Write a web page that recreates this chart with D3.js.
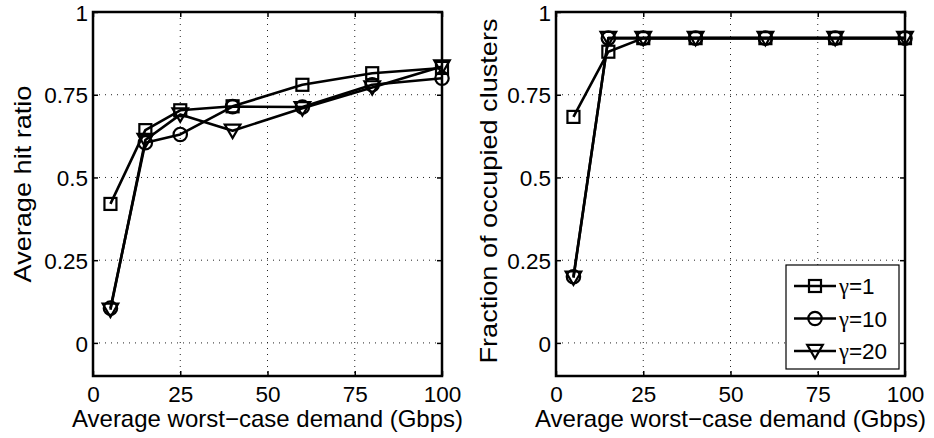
<!DOCTYPE html>
<html><head><meta charset="utf-8">
<script src="https://cdn.jsdelivr.net/npm/d3@7"></script>
<style>body{margin:0;background:#fff;overflow:hidden} text{font-family:"Liberation Sans",Arial,Helvetica,sans-serif;fill:#000}</style>
</head><body><svg id="c" width="934" height="438"></svg>
<script>
const xValues = [5, 15, 25, 40, 60, 80, 100];
const seriesSymbol = "γ";
const seriesLabels = ["=1", "=10", "=20"];
const markerTypes = ["square", "circle", "triangle"];
const hitRatio1 = [0.42, 0.643, 0.703, 0.715, 0.78, 0.815, 0.831];
const hitRatio10 = [0.105, 0.605, 0.63, 0.714, 0.713, 0.78, 0.80];
const hitRatio20 = [0.10, 0.613, 0.69, 0.641, 0.709, 0.772, 0.835];
const occupied1 = [0.683, 0.88, 0.921, 0.921, 0.921, 0.921, 0.921];
const occupied10 = [0.20, 0.921, 0.921, 0.921, 0.921, 0.921, 0.921];
const occupied20 = [0.197, 0.921, 0.921, 0.921, 0.921, 0.921, 0.921];
const xTicks = [0, 25, 50, 75, 100];
const yTicks = [0, 0.25, 0.5, 0.75, 1];
const yTickLabels = ["0", "0.25", "0.5", "0.75", "1"];
const xLabel = "Average worst\u2212case demand (Gbps)";
const yLabels = ["Average hit ratio", "Fraction of occupied clusters"];

const svg = d3.select("#c");
const FS = 22.5;
const LFS = 24;

function panel(left, right, yLabel, series, legend, yLabelX, yLabelY) {
  const top = 12, bottom = 376;
  const x = d3.scaleLinear().domain([0, 100]).range([left, right]);
  const y = d3.scaleLinear().domain([-0.1, 1]).range([bottom, top]);
  const g = svg.append("g");
  // grid
  g.append("g").selectAll("line").data(xTicks.filter(t => t > 0 && t < 100)).join("line")
    .attr("x1", d => x(d)).attr("x2", d => x(d)).attr("y1", top).attr("y2", bottom)
    .attr("stroke", "#222").attr("stroke-width", 1).attr("stroke-dasharray", "1,5");
  g.append("g").selectAll("line").data(yTicks.filter(t => t < 1)).join("line")
    .attr("y1", d => y(d)).attr("y2", d => y(d)).attr("x1", left).attr("x2", right)
    .attr("stroke", "#222").attr("stroke-width", 1).attr("stroke-dasharray", "1,5");
  // axes with inward ticks
  const ax = [
    [d3.axisBottom(x).tickValues(xTicks).tickSize(-5).tickFormat(d3.format("d")), `translate(0,${bottom})`],
    [d3.axisTop(x).tickValues(xTicks).tickSize(-5).tickFormat(""), `translate(0,${top})`],
    [d3.axisLeft(y).tickValues(yTicks).tickSize(-5).tickFormat((d, i) => yTickLabels[i]), `translate(${left},0)`],
    [d3.axisRight(y).tickValues(yTicks).tickSize(-5).tickFormat(""), `translate(${right},0)`]
  ];
  ax.forEach(([a, tr], i) => {
    const ag = g.append("g").attr("transform", tr).call(a);
    ag.select(".domain").remove();
    ag.selectAll("line").attr("stroke", "#000").attr("stroke-width", 1.5);
    ag.selectAll("text").attr("font-size", FS).attr("font-family", "'Liberation Sans',Arial,sans-serif");
    if (i === 0) ag.selectAll("text").attr("dy", null).attr("y", 26);
    if (i === 2) ag.selectAll("text").attr("dy", "0.36em").attr("x", -5);
  });
  // frame
  g.append("rect").attr("x", left).attr("y", top).attr("width", right - left).attr("height", bottom - top)
    .attr("fill", "none").attr("stroke", "#000").attr("stroke-width", 2.5);
  // series
  const line = d3.line().x((d, i) => x(xValues[i])).y(d => y(d));
  series.forEach((vals, si) => {
    g.append("path").datum(vals).attr("d", line).attr("fill", "none")
      .attr("stroke", "#000").attr("stroke-width", 2.6).attr("stroke-linejoin", "round");
    vals.forEach((v, i) => drawMarker(g, markerTypes[si], x(xValues[i]), y(v)));
  });
  // labels
  svg.append("text").attr("x", (left + right) / 2).attr("y", 427).attr("text-anchor", "middle")
    .attr("font-size", LFS).text(xLabel);
  svg.append("text").attr("transform", `translate(${yLabelX},${yLabelY}) scale(1,1.13) rotate(-90)`)
    .attr("text-anchor", "middle").attr("font-size", LFS).text(yLabel);
  if (legend) {
    const lx = 786, ly = 265, lw = 113, lh = 104;
    const lg = svg.append("g");
    lg.append("rect").attr("x", lx).attr("y", ly).attr("width", lw).attr("height", lh)
      .attr("fill", "#fff").attr("stroke", "#000").attr("stroke-width", 1.2);
    seriesLabels.forEach((n, i) => {
      const cy = ly + 21 + i * 32.5;
      lg.append("line").attr("x1", lx + 8).attr("x2", lx + 50).attr("y1", cy).attr("y2", cy)
        .attr("stroke", "#000").attr("stroke-width", 2.6);
      drawMarker(lg, markerTypes[i], lx + 29, cy);
      const t = lg.append("text").attr("x", lx + 53).attr("y", cy).attr("dy", "0.36em").attr("font-size", FS);
      t.append("tspan").attr("font-family", "'Liberation Serif','DejaVu Serif',serif").text(seriesSymbol);
      t.append("tspan").text(n);
    });
  }
}

function drawMarker(g, type, cx, cy) {
  const s = { stroke: "#000", "stroke-width": 2.2, fill: "none" };
  let m;
  if (type === "square") m = g.append("rect").attr("x", cx - 6).attr("y", cy - 6).attr("width", 12).attr("height", 12);
  else if (type === "circle") m = g.append("circle").attr("cx", cx).attr("cy", cy).attr("r", 6.7);
  else m = g.append("path").attr("d", `M${cx - 7.8},${cy - 6.2}L${cx + 7.8},${cy - 6.2}L${cx},${cy + 7.2}Z`);
  Object.entries(s).forEach(([k, v]) => m.attr(k, v));
}

panel(93, 442, yLabels[0], [hitRatio1, hitRatio10, hitRatio20], false, 31, 184);
panel(556, 905, yLabels[1], [occupied1, occupied10, occupied20], true, 497, 191);
</script></body></html>
